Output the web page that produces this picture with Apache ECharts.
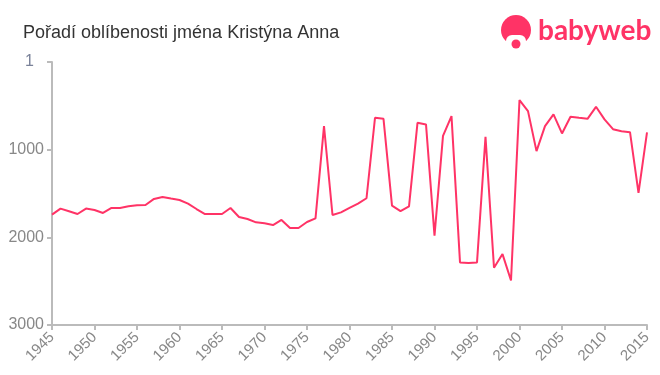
<!DOCTYPE html>
<html>
<head>
<meta charset="utf-8">
<script src="https://cdn.jsdelivr.net/npm/echarts@6/dist/echarts.min.js"></script>
<style>html,body{margin:0;padding:0;background:#fff}#c{width:660px;height:375px}</style>
</head>
<body>
<div id="c"></div>
<script>
const years = [1945,1946,1947,1948,1949,1950,1951,1952,1953,1954,1955,1956,1957,1958,1959,1960,1961,1962,1963,1964,1965,1966,1967,1968,1969,1970,1971,1972,1973,1974,1975,1976,1977,1978,1979,1980,1981,1982,1983,1984,1985,1986,1987,1988,1989,1990,1991,1992,1993,1994,1995,1996,1997,1998,1999,2000,2001,2002,2003,2004,2005,2006,2007,2008,2009,2010,2011,2012,2013,2014,2015];
const ranks = [1741,1672,1703,1734,1672,1688,1722,1665,1665,1646,1634,1631,1562,1540,1558,1574,1615,1677,1734,1734,1734,1665,1768,1791,1829,1840,1860,1802,1894,1894,1825,1783,732,1745,1715,1665,1615,1554,637,648,1638,1700,1646,694,712,1981,842,617,2286,2294,2286,854,2347,2191,2492,434,560,1017,732,598,815,625,637,648,511,655,766,789,800,1494,804];
const yTicks = [1,1000,2000,3000];
const title = 'Pořadí oblíbenosti jména Kristýna Anna';

const chart = echarts.init(document.getElementById('c'), null, {renderer:'canvas'});
const pink = '#ff3366';
chart.setOption({
  animation:false,
  title:{text:title,left:18,top:19,textStyle:{fontFamily:'Liberation Sans, Arial, sans-serif',fontSize:18,fontWeight:'normal',color:'#333'}},
  graphic:[
    {type:'circle',shape:{cx:516,cy:30,r:15},style:{fill:pink}},
    {type:'rect',shape:{x:506,y:35,width:20,height:14,r:6},style:{fill:'#fff'}},
    {type:'circle',shape:{cx:516,cy:44,r:4.5},style:{fill:pink}},
    {type:'text',left:538,top:17,style:{text:'babyweb',fill:pink,font:'bold 28px Lato, "Open Sans", sans-serif'}}
  ],
  grid:{left:52,right:13,top:62,bottom:50},
  xAxis:{type:'value',position:'bottom',min:1945,max:2015,interval:5,
    axisLine:{onZero:false,lineStyle:{color:'#bbb',width:2}},
    axisTick:{lineStyle:{color:'#bbb',width:2},length:5},
    splitLine:{show:false},
    axisLabel:{rotate:45,color:'#888',fontSize:15,fontFamily:'Liberation Sans, Arial, sans-serif',formatter:v=>String(v),margin:10}},
  yAxis:{type:'value',inverse:true,min:0,max:3000,interval:1000,
    axisLine:{show:true,onZero:false,lineStyle:{color:'#bbb',width:2}},
    axisTick:{show:true,lineStyle:{color:'#bbb',width:2},length:5},
    splitLine:{show:false},
    axisLabel:{color:'#888',fontSize:16,fontFamily:'Liberation Sans, Arial, sans-serif',margin:8,
      formatter:v=>v===0?'{a|'+yTicks[0]+'}':String(v),
      rich:{a:{color:'#7a8299',fontSize:16,fontFamily:'Liberation Sans, Arial, sans-serif',padding:[0,10,0,0]}}}},
  series:[{type:'line',data:years.map((y,i)=>[y,ranks[i]]),showSymbol:false,symbol:'none',
    lineStyle:{color:pink,width:2}}]
});
</script>
</body>
</html>
